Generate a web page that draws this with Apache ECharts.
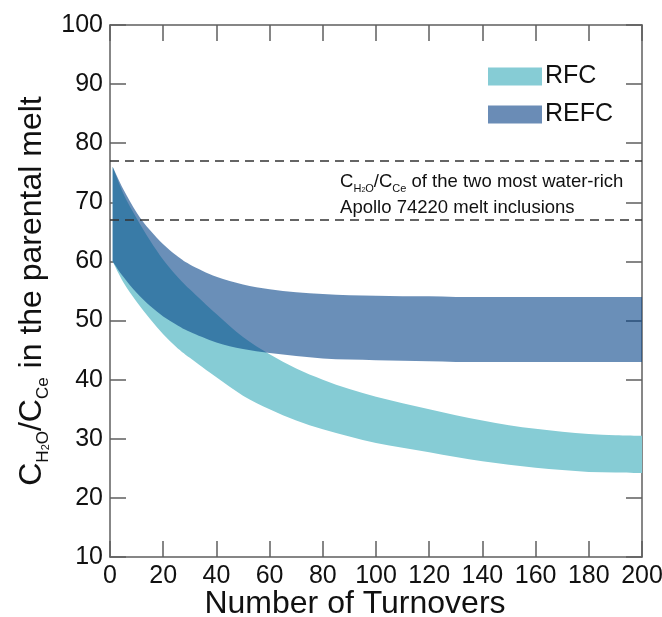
<!DOCTYPE html>
<html>
<head>
<meta charset="utf-8">
<script src="https://cdn.jsdelivr.net/npm/echarts@6/dist/echarts.min.js"></script>
<style>
  html, body { margin: 0; padding: 0; background: #ffffff; }
  #chart { width: 662px; height: 617px; }
</style>
</head>
<body>
<div id="chart"></div>
<script>
// Number of overturn events (x) and the bounding curves of each model band (y)
const turnovers = [1, 5, 10, 15, 20, 25, 30, 40, 50, 60, 70, 80, 90, 100, 110, 120, 130, 140, 150, 160, 170, 180, 190, 200];
const rfcUpper  = [76, 71.5, 67.3, 63.6, 60.3, 57.6, 55.3, 51.1, 47.2, 44.3, 41.9, 40.0, 38.4, 37.1, 36.0, 35.0, 34.0, 33.1, 32.3, 31.7, 31.2, 30.8, 30.6, 30.5];
const rfcLower  = [60, 56.5, 53.2, 50.3, 47.7, 45.5, 43.7, 40.4, 37.3, 35.0, 33.1, 31.6, 30.4, 29.3, 28.5, 27.7, 26.9, 26.2, 25.6, 25.1, 24.7, 24.4, 24.3, 24.2];
const refcUpper = [76, 72.2, 68.3, 65.3, 62.9, 61.0, 59.5, 57.4, 56.1, 55.3, 54.8, 54.5, 54.3, 54.2, 54.1, 54.1, 54.0, 54.0, 54.0, 54.0, 54.0, 54.0, 54.0, 54.0];
const refcLower = [60, 57.4, 54.7, 52.5, 50.7, 49.3, 48.1, 46.3, 45.2, 44.5, 44.0, 43.6, 43.4, 43.3, 43.2, 43.1, 43.0, 43.0, 43.0, 43.0, 43.0, 43.0, 43.0, 43.0];

// Ratios measured in the two most water-rich Apollo 74220 melt inclusions
const inclusionRatios = [67, 77];
const annotationAt = [86.5, 71.3];

// Axis ranges and tick spacing
const xRange = [0, 200, 20];
const yRange = [10, 100, 10];

const FONT = "'Liberation Sans', Arial, Helvetica, sans-serif";
const AXIS_COLOR = '#5f5f5f';
const RFC_COLOR = '#86ccd5';
const REFC_LEGEND = '#6a8cb6';
const REFC_FILL = 'rgba(7, 68, 137, 0.6)';

// Smooth curve (Catmull-Rom as cubic Beziers) through pixel points, without the initial move
function curveThrough(pts) {
  let d = '';
  for (let i = 0; i < pts.length - 1; i++) {
    const p0 = pts[Math.max(i - 1, 0)], p1 = pts[i], p2 = pts[i + 1], p3 = pts[Math.min(i + 2, pts.length - 1)];
    const c1 = [p1[0] + (p2[0] - p0[0]) / 6, p1[1] + (p2[1] - p0[1]) / 6];
    const c2 = [p2[0] - (p3[0] - p1[0]) / 6, p2[1] - (p3[1] - p1[1]) / 6];
    d += ' C' + c1[0] + ',' + c1[1] + ' ' + c2[0] + ',' + c2[1] + ' ' + p2[0] + ',' + p2[1];
  }
  return d;
}

// One filled shape per band: along the upper curve, back along the lower one
function band(name, lower, upper, fill, legendColor, z) {
  return {
    name: name, type: 'custom', z: z,
    data: turnovers.map((t, i) => [t, lower[i], upper[i]]),
    encode: { x: 0, y: [1, 2] },
    itemStyle: { color: legendColor },
    renderItem: function (params, api) {
      if (params.dataIndex !== 0) return null;
      const top = turnovers.map((t, i) => api.coord([t, upper[i]]));
      const bottom = turnovers.map((t, i) => api.coord([t, lower[i]])).reverse();
      const d = 'M' + top[0][0] + ',' + top[0][1] + curveThrough(top) +
                ' L' + bottom[0][0] + ',' + bottom[0][1] + curveThrough(bottom) + ' Z';
      return {
        type: 'path',
        shape: { pathData: d },
        style: { fill: fill, stroke: null }
      };
    }
  };
}

const axisLineStyle = { color: AXIS_COLOR, width: 1.5 };
const tick = { show: true, inside: true, length: 16, lineStyle: axisLineStyle };

function xAxis(position, labelled) {
  return {
    type: 'value', position: position, min: xRange[0], max: xRange[1], interval: xRange[2],
    axisLine: { show: true, onZero: false, lineStyle: axisLineStyle },
    axisTick: tick,
    splitLine: { show: false },
    axisLabel: { show: labelled, fontSize: 25, color: '#111', fontFamily: FONT, margin: 7 },
    name: labelled ? 'Number of Turnovers' : '',
    nameLocation: 'middle', nameGap: 31, nameMoveOverlap: false,
    nameTextStyle: { fontSize: 32, color: '#111', fontFamily: FONT, padding: [0, 42, 0, 0] }
  };
}

function yAxis(position, labelled) {
  return {
    type: 'value', position: position, min: yRange[0], max: yRange[1], interval: yRange[2],
    axisLine: { show: true, onZero: false, lineStyle: axisLineStyle },
    axisTick: tick,
    splitLine: { show: false },
    axisLabel: { show: labelled, fontSize: 25, color: '#111', fontFamily: FONT, margin: 7 },
    name: labelled ? '{m|C}{s|H}{ss|2}{s|O}{m|/C}{s|Ce}{m| in the parental melt}' : '',
    nameLocation: 'middle', nameGap: 58, nameRotate: 90, nameMoveOverlap: false,
    nameTextStyle: {
      color: '#111', fontFamily: FONT,
      rich: {
        m:  { fontSize: 32, lineHeight: 38, fontFamily: FONT, color: '#111', verticalAlign: 'bottom', padding: [0, 0, 4, 0] },
        s:  { fontSize: 17, lineHeight: 17, fontFamily: FONT, color: '#111', verticalAlign: 'bottom' },
        ss: { fontSize: 11, lineHeight: 11, fontFamily: FONT, color: '#111', verticalAlign: 'bottom', padding: [0, 0, 1, 0] }
      }
    }
  };
}

const chart = echarts.init(document.getElementById('chart'), null, { renderer: 'canvas' });

const option = {
  animation: false,
  backgroundColor: '#ffffff',
  grid: { left: 110, right: 20, top: 25, bottom: 60, containLabel: false, outerBoundsMode: 'none' },
  legend: {
    orient: 'vertical', left: 483, top: 59,
    icon: 'rect', itemWidth: 54, itemHeight: 18, itemGap: 13,
    textStyle: { fontSize: 25, lineHeight: 25, color: '#111', fontFamily: FONT, padding: [0, 0, 0, -2] },
    itemStyle: { borderWidth: 0 },
    data: [
      { name: 'RFC', itemStyle: { color: RFC_COLOR } },
      { name: 'REFC', itemStyle: { color: REFC_LEGEND } }
    ]
  },
  xAxis: [xAxis('bottom', true), xAxis('top', false)],
  yAxis: [yAxis('left', true), yAxis('right', false)],
  series: [
    band('RFC', rfcLower, rfcUpper, RFC_COLOR, RFC_COLOR, 2),
    band('REFC', refcLower, refcUpper, REFC_FILL, REFC_LEGEND, 3),
    {
      name: 'inclusions', type: 'line', data: [], silent: true, z: 4,
      markLine: {
        silent: true, symbol: 'none',
        label: { show: false },
        lineStyle: { color: '#333', width: 1.5, type: [9, 6] },
        data: inclusionRatios.map(v => ({ yAxis: v }))
      }
    }
  ]
};

chart.setOption(option);

// Place the inclusion note between the two dashed reference levels
const notePos = chart.convertToPixel({ gridIndex: 0 }, annotationAt);
chart.setOption({
  graphic: [{
    type: 'text', x: notePos[0], y: notePos[1], silent: true, z: 10,
    style: {
      text: '{m|C}{s|H}{ss|2}{s|O}{m|/C}{s|Ce}{m| of the two most water-rich}\n{m|Apollo 74220 melt inclusions}',
      verticalAlign: 'middle', align: 'left',
      rich: {
        m:  { fontSize: 18.5, lineHeight: 26, fontFamily: FONT, fill: '#111', verticalAlign: 'bottom', padding: [0, 0, 3, 0] },
        s:  { fontSize: 11, lineHeight: 11, fontFamily: FONT, fill: '#111', verticalAlign: 'bottom' },
        ss: { fontSize: 7, lineHeight: 7, fontFamily: FONT, fill: '#111', verticalAlign: 'bottom', padding: [0, 0, 1, 0] }
      }
    }
  }]
});
</script>
</body>
</html>
